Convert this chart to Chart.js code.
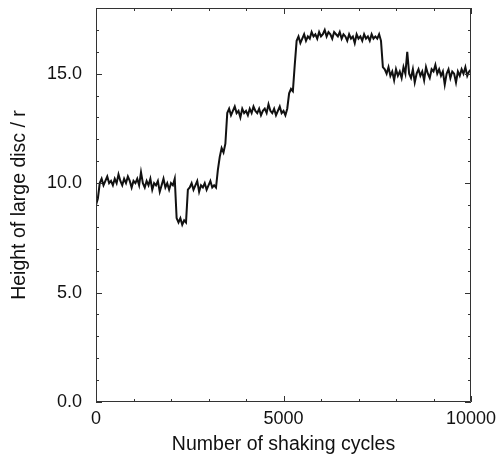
<!DOCTYPE html>
<html>
<head>
<meta charset="utf-8">
<script src="https://cdn.jsdelivr.net/npm/chart.js@4.4.1/dist/chart.umd.min.js"></script>
<style>
html,body{margin:0;padding:0;background:#fff;}
#wrap{position:relative;width:498px;height:455px;}
</style>
</head>
<body>
<div id="wrap"><canvas id="c" width="498" height="455"></canvas></div>
<script>
// Sampling interval of the read-off trace (shaking cycles)
const cycleStep = 50;
// Height of large disc / r, read every 50 cycles from 0 to 10000
const heights = [
  9.0, 9.3, 10.0, 10.2, 9.9, 10.1, 10.3, 10.0, 10.1, 9.9,
  10.2, 10.0, 10.4, 10.1, 9.9, 10.2, 10.0, 10.3, 10.1, 9.8,
  10.1, 10.0, 10.2, 9.9, 10.5, 10.0, 9.8, 10.1, 9.9, 10.2,
  9.7, 10.0, 9.9, 10.1, 9.6, 9.9, 10.2, 9.8, 10.0, 9.7,
  10.0, 9.9, 10.2, 8.4, 8.2, 8.4, 8.1, 8.3, 8.2, 9.7,
  9.8, 10.0, 9.7, 9.9, 10.1, 9.6, 9.9, 9.8, 10.0, 9.7,
  9.9, 10.1, 9.8, 9.9, 9.8, 10.6, 11.2, 11.6, 11.4, 11.8,
  13.2, 13.4, 13.1, 13.3, 13.5, 13.2, 13.3, 13.0, 13.4, 13.2,
  13.3, 13.1, 13.4, 13.2, 13.5, 13.3, 13.2, 13.4, 13.1, 13.3,
  13.4, 13.2, 13.6, 13.3, 13.2, 13.4, 13.1, 13.3, 13.5, 13.2,
  13.3, 13.1, 13.4, 14.1, 14.3, 14.2, 15.4, 16.5, 16.7, 16.4,
  16.6, 16.8, 16.5, 16.7, 16.6, 16.9, 16.7, 16.8, 16.6, 16.9,
  16.7, 16.8, 17.0, 16.7, 16.9, 16.8, 16.6, 16.9, 16.8, 16.7,
  16.9, 16.6, 16.8, 16.7, 16.5, 16.8, 16.6, 16.7, 16.4, 16.8,
  16.6, 16.7, 16.5, 16.8, 16.6, 16.7, 16.5, 16.8, 16.6, 16.7,
  16.6, 16.8, 16.5, 15.3, 15.2, 15.0, 15.3, 14.9, 15.1, 14.7,
  15.2, 14.9, 15.1, 14.8, 15.3, 15.0, 16.0, 15.0, 14.8, 15.2,
  14.6, 15.0, 15.2, 14.9, 15.1, 14.7, 15.3, 15.0, 14.8, 15.2,
  15.1, 15.4, 15.0, 15.2, 14.9, 15.1, 14.5, 15.0, 15.2, 14.8,
  15.1, 15.0, 14.6, 15.1, 14.9, 15.2, 15.0, 15.3, 14.9, 15.1,
  15.2
];
// Labelled tick values
const xTickLabels = [0, 5000, 10000];
const yTickLabels = [0, 5, 10, 15];
const xMinorStep = 1000;
const yMinorStep = 1;

const points = heights.map((h, i) => ({x: i * cycleStep, y: h}));

const FONT = "'Liberation Sans', Arial, sans-serif";

const framePlugin = {
  id: 'frameTicks',
  afterDatasetsDraw(chart) {
    const {ctx, chartArea: a, scales} = chart;
    const xs = scales.x, ys = scales.y;
    ctx.save();
    ctx.strokeStyle = '#333';
    ctx.lineWidth = 1;
    ctx.beginPath();
    ctx.rect(a.left + 0.5, a.top + 0.5, a.right - a.left - 1, a.bottom - a.top - 1);
    ctx.stroke();
    ctx.beginPath();
    for (let v = xs.min; v <= xs.max; v += xMinorStep) {
      const px = Math.round(xs.getPixelForValue(v)) + 0.5;
      const len = xTickLabels.includes(v) ? 6 : 3;
      ctx.moveTo(px, a.bottom); ctx.lineTo(px, a.bottom - len);
      ctx.moveTo(px, a.top); ctx.lineTo(px, a.top + len);
    }
    for (let v = ys.min; v <= ys.max; v += yMinorStep) {
      const py = Math.round(ys.getPixelForValue(v)) + 0.5;
      const len = yTickLabels.includes(v) ? 6 : 3;
      ctx.moveTo(a.left, py); ctx.lineTo(a.left + len, py);
      ctx.moveTo(a.right, py); ctx.lineTo(a.right - len, py);
    }
    ctx.stroke();
    ctx.restore();
  }
};

new Chart(document.getElementById('c'), {
  type: 'line',
  data: {
    datasets: [{
      data: points,
      borderColor: '#111',
      borderWidth: 2,
      pointRadius: 0,
      tension: 0,
      fill: false
    }]
  },
  options: {
    responsive: false,
    animation: false,
    layout: {padding: {left: 0, right: 27, top: 8, bottom: 0}},
    plugins: {legend: {display: false}, tooltip: {enabled: false}},
    scales: {
      x: {
        type: 'linear',
        min: 0, max: 10000,
        grid: {display: false, drawTicks: false},
        border: {display: false},
        afterBuildTicks: s => { s.ticks = xTickLabels.map(v => ({value: v})); },
        afterFit: s => { s.height = 53; s.paddingLeft = 0; s.paddingRight = 0; },
        ticks: {
          color: '#111', padding: 6, maxRotation: 0,
          font: {family: FONT, size: 18},
          callback: v => String(v)
        },
        title: {
          display: true, text: 'Number of shaking cycles', color: '#111',
          font: {family: FONT, size: 19.5, lineHeight: 1.1},
          padding: {top: 0, bottom: 0}
        }
      },
      y: {
        type: 'linear',
        min: 0, max: 18,
        grid: {display: false, drawTicks: false},
        border: {display: false},
        afterBuildTicks: s => { s.ticks = yTickLabels.map(v => ({value: v})); },
        afterFit: s => { s.width = 96; s.paddingTop = 0; s.paddingBottom = 0; },
        ticks: {
          color: '#111', padding: 14,
          font: {family: FONT, size: 18},
          callback: v => Number(v).toFixed(1)
        },
        title: {
          display: true, text: 'Height of large disc / r', color: '#111',
          font: {family: FONT, size: 19.5, lineHeight: 1.1},
          padding: {top: 9, bottom: 0}
        }
      }
    }
  },
  plugins: [framePlugin]
});
</script>
</body>
</html>
